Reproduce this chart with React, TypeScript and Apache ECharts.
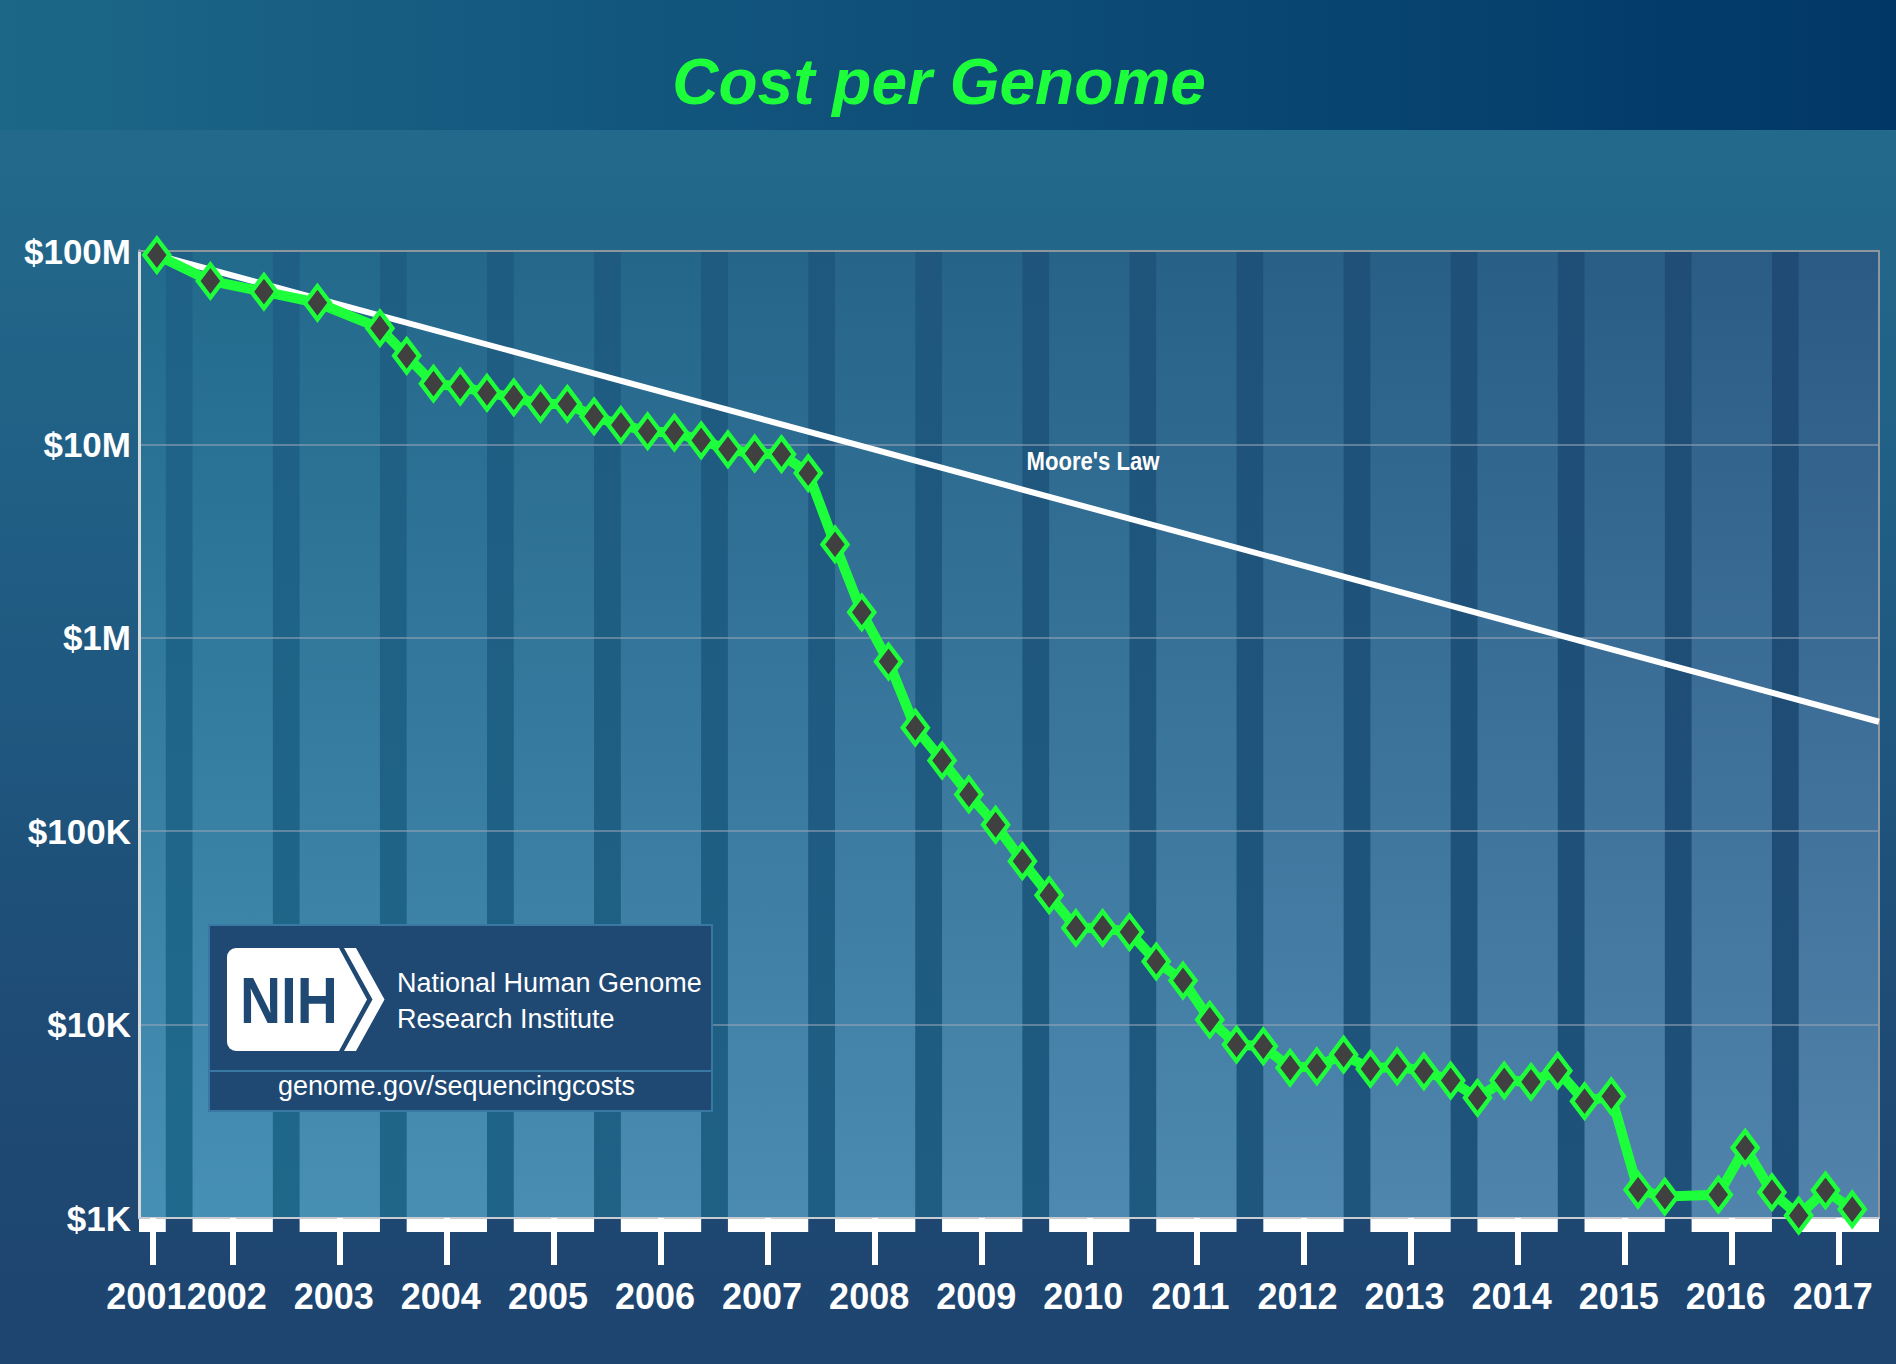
import React, { useEffect, useRef } from "react";
import * as echarts from "echarts";

// ---------- data ----------
const dates = [
  "2001-09", "2002-03", "2002-09", "2003-03",
  "2003-10", "2004-01", "2004-04", "2004-07", "2004-10",
  "2005-01", "2005-04", "2005-07", "2005-10",
  "2006-01", "2006-04", "2006-07", "2006-10",
  "2007-01", "2007-04", "2007-07", "2007-10",
  "2008-01", "2008-04", "2008-07", "2008-10",
  "2009-01", "2009-04", "2009-07", "2009-10",
  "2010-01", "2010-04", "2010-07", "2010-10",
  "2011-01", "2011-04", "2011-07", "2011-10",
  "2012-01", "2012-04", "2012-07", "2012-10",
  "2013-01", "2013-04", "2013-07", "2013-10",
  "2014-01", "2014-04", "2014-07", "2014-10",
  "2015-01", "2015-04", "2015-07", "2015-10",
  "2016-04", "2016-07", "2016-10",
  "2017-01", "2017-04", "2017-07",
];

const costs = [
  95300000, 70000000, 61600000, 54000000,
  39900000, 28700000, 20600000, 19900000, 18500000,
  17500000, 16200000, 16200000, 13960000,
  12600000, 11700000, 11500000, 10500000,
  9440000, 8970000, 8900000, 7110000,
  3040000, 1355000, 754000, 343000,
  232000, 155000, 108000, 70000,
  46700, 31600, 31600, 30100,
  21200, 16900, 10600, 7880,
  7730, 5980, 6090, 6990,
  5900, 6090, 5740, 5140,
  4180, 5140, 5060, 5780,
  4020, 4260, 1400, 1290,
  1320, 2310, 1360,
  1030, 1390, 1110,
];

const mooreDates = ["2001-09", "2017-10"];
const mooreCosts = [95300000, 368000];

const yearLabels = [
  "2001", "2002", "2003", "2004", "2005", "2006", "2007", "2008", "2009",
  "2010", "2011", "2012", "2013", "2014", "2015", "2016", "2017",
];

const yTickLabels = ["$1K", "$10K", "$100K", "$1M", "$10M", "$100M"];

// ---------- helpers ----------
const FONT = '"Liberation Sans", Arial, Helvetica, sans-serif';
const GREEN = "#1eff3c";
const NAVY = "#1f4873";
const X_MIN = 2001.5;
const X_MAX = 2017.75;
const Y_MIN = 1000;
const Y_MAX = 100000000;

function toYear(s: string): number {
  const [y, m] = s.split("-").map(Number);
  return y + (m - 1) / 12;
}

function hexToRgb(h: string): number[] {
  const n = parseInt(h.slice(1), 16);
  return [(n >> 16) & 255, (n >> 8) & 255, n & 255];
}
function mix(a: string, b: string, t: number): string {
  const A = hexToRgb(a);
  const B = hexToRgb(b);
  return `rgb(${A.map((v, i) => Math.round(v + (B[i] - v) * t)).join(",")})`;
}

// year bands: light part then dark part
const bandData: number[][] = [];
yearLabels.forEach((ys) => {
  const y = Number(ys);
  bandData.push([Math.max(y, X_MIN), Math.min(y + 0.75, X_MAX), 0, 10000]);
  if (y + 0.75 < X_MAX) bandData.push([y + 0.75, Math.min(y + 1, X_MAX), 1, 10000]);
});
const tickValues = yearLabels.map((ys) => {
  const y = Number(ys);
  return (Math.max(y, X_MIN) + Math.min(y + 0.75, X_MAX)) / 2;
});

const costData = dates.map((d, i) => [toYear(d), costs[i]]);
const mooreData = mooreDates.map((d, i) => [toYear(d), mooreCosts[i]]);

const BG =
  "linear-gradient(90deg, #1c6788 0%, #0e4e78 50%, #003767 100%) 0 0 / 100% 130px no-repeat, " +
  "linear-gradient(180deg, #226d8d 0px, #226589 300px, #1f5880 700px, #1e4c76 1000px, #1e4670 1250px, #1e4570 1364px)";

function renderBand(params: any, api: any) {
  const x0 = api.value(0);
  const x1 = api.value(1);
  const kind = api.value(2);
  const tl = api.coord([x0, Y_MAX]);
  const br = api.coord([x1, Y_MIN]);
  const cs = params.coordSys;
  const f = Math.min(1, Math.max(0, (tl[0] - cs.x) / cs.width));
  const w = br[0] - tl[0];
  const h = br[1] - tl[1];
  let fill;
  if (kind === 0) {
    fill = new echarts.graphic.LinearGradient(0, 0, 0, 1, [
      { offset: 0, color: mix("#226a8c", "#2b5a85", f) },
      { offset: 1, color: mix("#4790b5", "#5282ab", f) },
    ]);
  } else {
    fill = new echarts.graphic.LinearGradient(0, 0, 0, 1, [
      { offset: 0, color: mix("#1f6186", "#1f4a73", f) },
      { offset: 1, color: mix("#1f6a8c", "#1e4c76", f) },
    ]);
  }
  const children: any[] = [
    { type: "rect", shape: { x: tl[0], y: tl[1], width: w + 0.5, height: h }, style: { fill } },
  ];
  if (kind === 0) {
    children.push({
      type: "rect",
      shape: { x: tl[0], y: br[1], width: w, height: 14 },
      style: { fill: "#ffffff" },
    });
  }
  return { type: "group", children };
}

const option: any = {
  animation: false,
  backgroundColor: "transparent",
  grid: { left: 139, right: 17, top: 251, bottom: 146, containLabel: false, outerBoundsMode: "none" },
  xAxis: [
    {
      type: "value",
      min: X_MIN,
      max: X_MAX,
      position: "bottom",
      z: 1,
      axisLine: { show: true, lineStyle: { color: "#c8ccd2", width: 2 } },
      axisTick: {
        show: true,
        customValues: tickValues,
        length: 47,
        lineStyle: { color: "#ffffff", width: 6 },
      },
      axisLabel: {
        show: true,
        customValues: tickValues,
        formatter: (v: number) => String(Math.floor(v + 1e-6)),
        color: "#ffffff",
        fontSize: 36,
        fontWeight: "bold",
        fontFamily: FONT,
        margin: 60,
        padding: [0, 12, 0, 0],
      },
      splitLine: { show: false },
    },
    {
      type: "value",
      min: X_MIN,
      max: X_MAX,
      position: "top",
      z: 1,
      axisLine: { show: true, lineStyle: { color: "#8e969e", width: 2 } },
      axisTick: { show: false },
      axisLabel: { show: false },
      splitLine: { show: false },
    },
  ],
  yAxis: [
    {
      type: "log",
      logBase: 10,
      min: Y_MIN,
      max: Y_MAX,
      z: 1,
      axisLine: { show: true, lineStyle: { color: "#d8dadc", width: 3 } },
      axisTick: { show: false },
      axisLabel: {
        formatter: (v: number) => yTickLabels[Math.round(Math.log10(v)) - 3] || "",
        color: "#ffffff",
        fontSize: 35,
        fontWeight: "bold",
        fontFamily: FONT,
        margin: 8,
      },
      splitLine: { show: true, lineStyle: { color: "rgba(150,164,182,0.75)", width: 1.5 } },
    },
    {
      type: "log",
      logBase: 10,
      min: Y_MIN,
      max: Y_MAX,
      position: "right",
      z: 1,
      axisLine: { show: true, lineStyle: { color: "#8e969e", width: 2 } },
      axisTick: { show: false },
      axisLabel: { show: false },
      splitLine: { show: false },
    },
  ],
  series: [
    {
      type: "custom",
      name: "bands",
      renderItem: renderBand,
      data: bandData,
      encode: { x: [0, 1], y: 3 },
      clip: false,
      silent: true,
      z: 0,
    },
    {
      type: "line",
      name: "Moore's Law",
      data: mooreData,
      showSymbol: false,
      symbol: "none",
      lineStyle: { color: "#ffffff", width: 6 },
      z: 3,
    },
    {
      type: "line",
      name: "Cost per Genome",
      data: costData,
      symbol: "diamond",
      symbolSize: [25, 33],
      showAllSymbol: true,
      itemStyle: { color: "#404040", borderColor: GREEN, borderWidth: 4.5 },
      lineStyle: { color: GREEN, width: 10 },
      z: 4,
    },
  ],
  graphic: [
    {
      type: "text",
      x: 939,
      y: 82,
      z: 10,
      style: {
        text: "Cost per Genome",
        fill: GREEN,
        fontSize: 64,
        fontWeight: "bold",
        fontStyle: "italic",
        fontFamily: FONT,
        align: "center",
        verticalAlign: "middle",
      },
    },
    {
      type: "text",
      x: 1093,
      y: 461,
      z: 10,
      scaleX: 0.85,
      style: {
        text: "Moore's Law",
        fill: "#ffffff",
        fontSize: 26,
        fontWeight: "bold",
        fontFamily: FONT,
        align: "center",
        verticalAlign: "middle",
      },
    },
    {
      type: "rect",
      z: 10,
      shape: { x: 209, y: 925, width: 503, height: 186 },
      style: { fill: NAVY, stroke: "#3a78a4", lineWidth: 2 },
    },
    {
      type: "line",
      z: 10,
      shape: { x1: 209, y1: 1071, x2: 712, y2: 1071 },
      style: { stroke: "#3a78a4", lineWidth: 2 },
    },
    {
      type: "rect",
      z: 10,
      shape: { x: 227, y: 948, width: 100, height: 103, r: 9 },
      style: { fill: "#ffffff" },
    },
    {
      type: "polygon",
      z: 10,
      shape: { points: [[300, 948], [339, 948], [367, 999.5], [339, 1051], [300, 1051]] },
      style: { fill: "#ffffff" },
    },
    {
      type: "polygon",
      z: 10,
      shape: {
        points: [[344, 948], [356, 948], [384.5, 999.5], [356, 1051], [344, 1051], [372.5, 999.5]],
      },
      style: { fill: "#ffffff" },
    },
    {
      type: "text",
      z: 11,
      x: 240,
      y: 1001,
      scaleX: 0.875,
      style: {
        text: "NIH",
        fill: NAVY,
        fontSize: 65,
        fontWeight: "bold",
        fontFamily: FONT,
        align: "left",
        verticalAlign: "middle",
      },
    },
    {
      type: "text",
      z: 11,
      x: 397,
      y: 983,
      style: {
        text: "National Human Genome",
        fill: "#ffffff",
        fontSize: 27,
        fontFamily: FONT,
        align: "left",
        verticalAlign: "middle",
      },
    },
    {
      type: "text",
      z: 11,
      x: 397,
      y: 1019,
      style: {
        text: "Research Institute",
        fill: "#ffffff",
        fontSize: 27,
        fontFamily: FONT,
        align: "left",
        verticalAlign: "middle",
      },
    },
    {
      type: "text",
      z: 11,
      x: 456.5,
      y: 1086,
      style: {
        text: "genome.gov/sequencingcosts",
        fill: "#ffffff",
        fontSize: 27,
        fontFamily: FONT,
        align: "center",
        verticalAlign: "middle",
      },
    },
  ],
};

export default function App() {
  const ref = useRef<HTMLDivElement>(null);
  useEffect(() => {
    document.body.style.margin = "0";
    const chart = echarts.init(ref.current as HTMLDivElement, null, { renderer: "svg" });
    chart.setOption(option);
    return () => {
      chart.dispose();
    };
  }, []);
  return <div ref={ref} style={{ width: 1896, height: 1364, background: BG }} />;
}
